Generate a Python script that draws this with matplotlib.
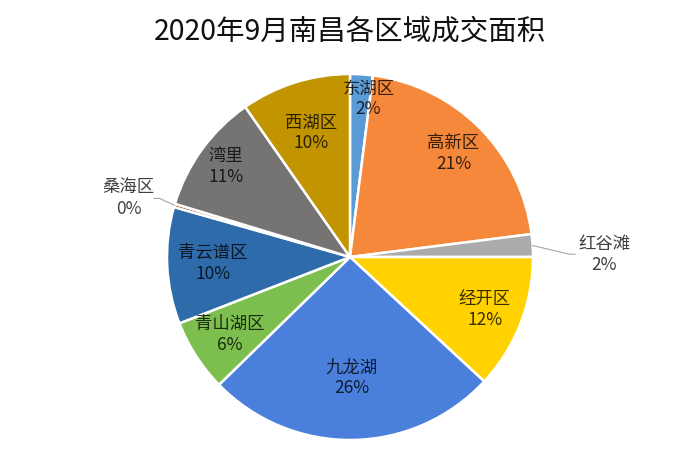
#! /usr/bin/env python
# -*- coding: utf-8 -*-

import numpy as np
import matplotlib
matplotlib.use('Agg')
import matplotlib.pyplot as plt

plt.rcParams['font.family'] = ['Noto Sans CJK SC', 'DejaVu Sans']

title = '2020年9月南昌各区域成交面积'
districts = ['东湖区', '高新区', '红谷滩', '经开区', '九龙湖',
             '青山湖区', '青云谱区', '桑海区', '湾里', '西湖区']
# share of traded area (%)
shares = [2.0, 21.0, 2.0, 11.9, 25.8, 6.4, 10.3, 0.3, 10.6, 9.7]
colors = ['#5B9BD5', '#F5883A', '#ABABAB', '#FFD200', '#4A7FDB',
          '#7CBF4E', '#2E6BAA', '#9E5A1E', '#767373', '#C29400']

# radial position of the label inside each wedge (None -> outside with leader)
label_r = [0.87, 0.80, None, 0.79, 0.66, 0.78, 0.75, None, 0.84, 0.71]
# small angular nudge of the label (degrees, clockwise)
label_dt = [3, 0, 0, 0, 0, 0, 0, 0, 0, 0]
# outside labels: text centre and leader elbow in data units
outside = {'红谷滩': ((1.39, 0.015), (1.20, 0.015)),
           '桑海区': ((-1.21, 0.32), (-1.04, 0.32))}


def main():
    W, H = 700, 461
    cx, cy, rad = 350, 257, 183

    fig = plt.figure(figsize=(W / 100, H / 100), dpi=100)
    fig.patch.set_facecolor('white')
    ax = fig.add_axes([(cx - rad) / W, (H - cy - rad) / H, 2 * rad / W, 2 * rad / H])

    wedges, _ = ax.pie(shares, colors=colors, startangle=90, counterclock=False,
                       radius=1.0,
                       wedgeprops=dict(edgecolor='white', linewidth=1.8))
    ax.set_xlim(-1, 1)
    ax.set_ylim(-1, 1)
    ax.set_aspect('equal')
    ax.axis('off')

    total = float(np.sum(shares))
    for w, name, v, r, dt in zip(wedges, districts, shares, label_r, label_dt):
        txt = '%s\n%.0f%%' % (name, v / total * 100)
        mid = np.deg2rad((w.theta1 + w.theta2) / 2 - dt)
        if r is not None:
            ax.text(r * np.cos(mid), r * np.sin(mid), txt, ha='center', va='center',
                    fontsize=12.5, color='black', alpha=0.78, linespacing=1.2)
        else:
            (tx, ty), (ex, ey) = outside[name]
            px, py = np.cos(mid), np.sin(mid)
            ax.plot([px, ex, ex + np.sign(ex) * 0.03], [py, ey, ey],
                    color='#a6a6a6', lw=0.8, clip_on=False)
            ax.text(tx, ty, txt, ha='center', va='center', fontsize=12.5,
                    color='#404040', linespacing=1.2)

    fig.text(0.5, 1 - 32 / H, title, ha='center', va='center', fontsize=20.5, color='#111111')

    plt.savefig('out.png', dpi=100, facecolor='white')

    return 0


if __name__ == '__main__':
    main()
